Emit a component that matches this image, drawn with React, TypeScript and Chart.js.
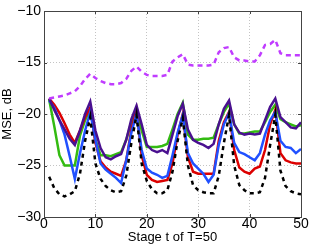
import React, { useEffect, useRef } from 'react';
import { Chart, registerables } from 'chart.js';

Chart.register(...registerables);

const stages = [1, 2, 3, 4, 5, 6, 7, 8, 9, 10, 11, 12, 13, 14, 15, 16, 17, 18, 19, 20, 21, 22, 23, 24, 25, 26, 27, 28, 29, 30, 31, 32, 33, 34, 35, 36, 37, 38, 39, 40, 41, 42, 43, 44, 45, 46, 47, 48, 49, 50];

const xTicks = [0, 10, 20, 30, 40, 50];
const yTicks = [-30, -25, -20, -15, -10];

const mseMagenta = [-18.5, -18.4, -18.3, -18.2, -18.0, -17.8, -17.3, -16.6, -16.1, -16.5, -16.8, -17.0, -17.1, -17.1, -17.0, -16.6, -15.8, -15.4, -15.9, -16.2, -16.3, -16.3, -16.3, -16.2, -14.9, -14.5, -14.2, -15.2, -15.3, -15.3, -15.3, -15.3, -15.2, -14.0, -13.6, -13.5, -14.5, -14.8, -14.8, -14.9, -14.9, -14.3, -13.3, -13.2, -12.8, -14.1, -14.3, -14.3, -14.3, -14.3];

const mseBlack = [-26.1, -27.2, -27.8, -28.0, -27.8, -27.5, -25.8, -22.6, -20.3, -24.8, -26.3, -27.0, -27.4, -27.6, -27.5, -26.0, -22.8, -20.1, -24.8, -26.5, -27.3, -27.7, -27.7, -27.4, -25.6, -22.6, -20.4, -25.0, -26.9, -27.4, -27.6, -27.7, -27.7, -26.0, -22.8, -20.1, -25.0, -26.9, -27.4, -27.7, -27.7, -27.6, -26.2, -23.0, -20.1, -25.5, -27.0, -27.5, -27.7, -27.8];

const mseRed = [-18.5, -19.1, -19.9, -20.9, -22.0, -22.8, -21.6, -20.3, -19.4, -22.8, -24.6, -25.2, -25.6, -25.8, -26.0, -24.5, -21.5, -19.6, -24.0, -25.9, -26.4, -26.6, -26.5, -26.4, -24.8, -22.0, -20.0, -24.2, -25.6, -25.8, -25.8, -25.8, -25.8, -22.6, -20.8, -19.8, -23.5, -25.2, -25.6, -25.8, -25.3, -25.1, -23.5, -21.0, -19.6, -23.8, -24.5, -24.7, -24.8, -24.8];

const mseBlue = [-18.7, -19.4, -20.6, -22.0, -24.1, -26.3, -23.8, -21.6, -19.8, -22.5, -24.8, -25.4, -25.8, -26.2, -26.7, -24.5, -21.8, -20.0, -23.5, -25.3, -25.7, -25.9, -26.2, -26.0, -24.0, -21.8, -20.1, -23.8, -24.8, -25.3, -25.8, -26.6, -25.9, -23.0, -21.0, -19.9, -22.8, -23.7, -23.9, -24.2, -24.5, -23.8, -22.0, -20.6, -19.8, -22.6, -23.2, -23.3, -23.8, -23.4];

const mseGreen = [-18.6, -21.2, -24.0, -25.0, -25.0, -25.0, -22.1, -20.6, -19.5, -22.5, -24.0, -24.0, -24.1, -23.9, -23.7, -22.5, -20.8, -19.5, -21.6, -23.2, -23.2, -23.2, -23.1, -22.9, -21.5, -20.0, -18.9, -22.0, -22.5, -22.5, -22.4, -22.4, -22.3, -21.0, -19.8, -19.0, -21.0, -21.9, -21.9, -21.8, -21.7, -21.7, -20.8, -19.8, -19.1, -20.5, -20.8, -21.0, -21.2, -21.1];

const msePurple = [-18.5, -19.6, -20.6, -21.5, -22.4, -23.0, -21.6, -20.0, -18.8, -21.6, -23.3, -24.2, -24.4, -24.1, -23.9, -22.5, -20.5, -19.2, -21.0, -23.0, -23.5, -23.7, -23.5, -23.8, -22.0, -20.2, -19.0, -21.5, -22.5, -22.8, -23.0, -23.3, -22.9, -21.0, -19.5, -18.7, -21.0, -21.8, -22.0, -21.9, -22.0, -21.9, -20.6, -19.3, -18.5, -20.3, -20.8, -21.3, -21.4, -20.8];

const FONT = "'Liberation Sans', Arial, Helvetica, sans-serif";

export default function App() {
  const ref = useRef<HTMLCanvasElement>(null);

  useEffect(() => {
    if (!ref.current) return;
    const mk = (vals: number[], color: string, dash: number[]) => ({
      data: stages.map((s, i) => ({ x: s, y: vals[i] })),
      borderColor: color,
      backgroundColor: color,
      borderWidth: 2.5,
      borderDash: dash,
      pointRadius: 0,
      fill: false,
      tension: 0,
    });

    const framePlugin = {
      id: 'frame',
      afterDraw(chart: any) {
        const { ctx, chartArea } = chart;
        const { left, right, top, bottom } = chartArea;
        ctx.save();
        ctx.strokeStyle = '#444';
        ctx.lineWidth = 1;
        ctx.setLineDash([]);
        ctx.strokeRect(Math.round(left) + 0.5, Math.round(top) + 0.5, Math.round(right - left), Math.round(bottom - top));
        ctx.beginPath();
        const xs = chart.scales.x;
        const ys = chart.scales.y;
        xTicks.forEach((v) => {
          const px = Math.round(xs.getPixelForValue(v)) + 0.5;
          ctx.moveTo(px, bottom);
          ctx.lineTo(px, bottom - 3);
          ctx.moveTo(px, top);
          ctx.lineTo(px, top + 3);
        });
        yTicks.forEach((v) => {
          const py = Math.round(ys.getPixelForValue(v)) + 0.5;
          ctx.moveTo(left, py);
          ctx.lineTo(left + 3, py);
          ctx.moveTo(right, py);
          ctx.lineTo(right - 3, py);
        });
        ctx.stroke();
        ctx.restore();
      },
    };

    const minus = (v: any) => (Number(v) < 0 ? '\u2212' + Math.abs(Number(v)) : String(v));

    const chart = new Chart(ref.current, {
      type: 'line',
      data: {
        datasets: [
          mk(mseMagenta, '#c03cff', [5, 4]),
          mk(mseBlack, '#000000', [4, 4]),
          mk(msePurple, '#4a1090', []),
          mk(mseBlue, '#2050ff', []),
          mk(mseRed, '#dc0000', []),
          mk(mseGreen, '#33bb11', []),
        ],
      },
      options: {
        animation: false,
        responsive: false,
        maintainAspectRatio: false,
        layout: { padding: { top: 11, right: 10, left: 0, bottom: 0 } },
        plugins: { legend: { display: false }, tooltip: { enabled: false } },
        scales: {
          x: {
            type: 'linear',
            min: 0,
            max: 50,
            afterFit: (s: any) => { s.height = 30; },
            ticks: {
              stepSize: 10,
              padding: 0,
              color: '#000',
              font: { family: FONT, size: 14, lineHeight: 1 },
              callback: minus,
            },
            grid: { color: '#c4c4c4', lineWidth: 1, drawTicks: false },
            border: { display: false, dash: [1, 2] },
            title: {
              display: true,
              text: 'Stage t of T=50',
              color: '#000',
              font: { family: FONT, size: 13, lineHeight: 1.2 },
              padding: { top: 0, bottom: 2 },
            },
          },
          y: {
            type: 'linear',
            min: -30,
            max: -10,
            afterFit: (s: any) => { s.width = 44; },
            ticks: {
              stepSize: 5,
              padding: 3,
              color: '#000',
              font: { family: FONT, size: 14, lineHeight: 1 },
              callback: minus,
            },
            grid: { color: '#c4c4c4', lineWidth: 1, drawTicks: false },
            border: { display: false, dash: [1, 2] },
            title: {
              display: true,
              text: 'MSE, dB',
              color: '#000',
              font: { family: FONT, size: 13, lineHeight: 1.1 },
              padding: { top: 0, bottom: 0 },
            },
          },
        },
      },
      plugins: [framePlugin],
    } as any);

    return () => chart.destroy();
  }, []);

  return (
    <div style={{ position: 'fixed', left: 0, top: 0, width: 311, height: 247, background: '#fff' }}>
      <canvas ref={ref} width={311} height={247} style={{ display: 'block', width: 311, height: 247 }} />
    </div>
  );
}
